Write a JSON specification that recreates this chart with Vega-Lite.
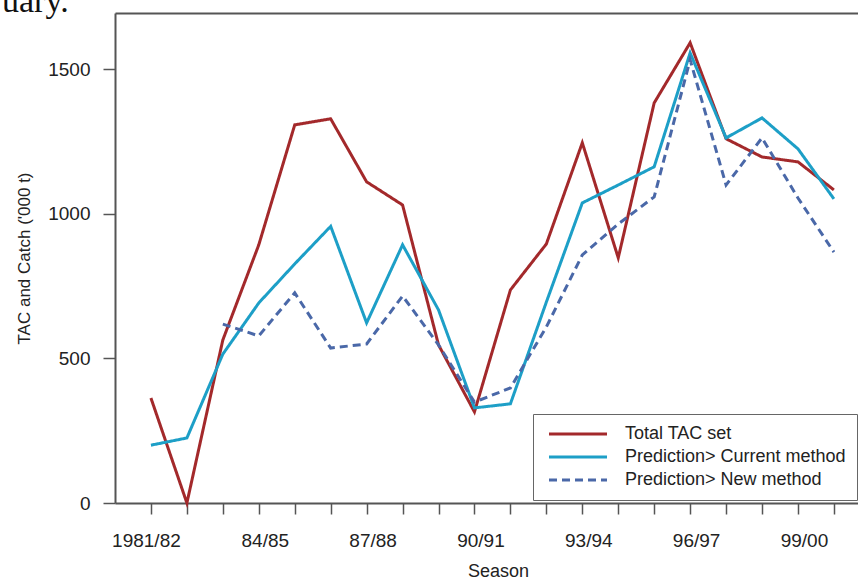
{
  "$schema": "https://vega.github.io/schema/vega-lite/v6.json",
  "width": 743,
  "height": 490,
  "autosize": {"type": "none"},
  "padding": {"left": 115, "top": 13, "right": 0, "bottom": 76},
  "background": "white",
  "title": {"text": "uary.", "anchor": "start", "frame": "group", "dx": -113, "dy": 36, "offset": 3, "baseline": "alphabetic", "font": "Liberation Serif", "fontSize": 34, "fontWeight": "normal", "color": "#111"},
  "config": {
    "view": {"stroke": null},
    "font": "Liberation Sans",
    "axis": {
      "domainColor": "#555", "domainWidth": 2, "tickColor": "#555", "tickWidth": 1.5,
      "labelColor": "#222", "labelFont": "Liberation Sans", "labelFontSize": 19,
      "titleColor": "#222", "titleFont": "Liberation Sans", "titleFontSize": 17, "titleFontWeight": "normal",
      "grid": false
    },
    "legend": {"labelFont": "Liberation Sans"}
  },
  "data": {"values": [
    {"year": 1981, "series": "Total TAC set", "value": 363},
    {"year": 1982, "series": "Total TAC set", "value": 0},
    {"year": 1983, "series": "Total TAC set", "value": 564},
    {"year": 1984, "series": "Total TAC set", "value": 893},
    {"year": 1985, "series": "Total TAC set", "value": 1308},
    {"year": 1986, "series": "Total TAC set", "value": 1329},
    {"year": 1987, "series": "Total TAC set", "value": 1111},
    {"year": 1988, "series": "Total TAC set", "value": 1031},
    {"year": 1989, "series": "Total TAC set", "value": 547},
    {"year": 1990, "series": "Total TAC set", "value": 315},
    {"year": 1991, "series": "Total TAC set", "value": 737},
    {"year": 1992, "series": "Total TAC set", "value": 896},
    {"year": 1993, "series": "Total TAC set", "value": 1246},
    {"year": 1994, "series": "Total TAC set", "value": 848},
    {"year": 1995, "series": "Total TAC set", "value": 1384},
    {"year": 1996, "series": "Total TAC set", "value": 1592},
    {"year": 1997, "series": "Total TAC set", "value": 1260},
    {"year": 1998, "series": "Total TAC set", "value": 1197},
    {"year": 1999, "series": "Total TAC set", "value": 1180},
    {"year": 2000, "series": "Total TAC set", "value": 1083},
    {"year": 1981, "series": "Prediction> Current method", "value": 200},
    {"year": 1982, "series": "Prediction> Current method", "value": 225},
    {"year": 1983, "series": "Prediction> Current method", "value": 515},
    {"year": 1984, "series": "Prediction> Current method", "value": 692},
    {"year": 1985, "series": "Prediction> Current method", "value": 827},
    {"year": 1986, "series": "Prediction> Current method", "value": 957},
    {"year": 1987, "series": "Prediction> Current method", "value": 623},
    {"year": 1988, "series": "Prediction> Current method", "value": 893},
    {"year": 1989, "series": "Prediction> Current method", "value": 668},
    {"year": 1990, "series": "Prediction> Current method", "value": 329},
    {"year": 1991, "series": "Prediction> Current method", "value": 343},
    {"year": 1992, "series": "Prediction> Current method", "value": 695},
    {"year": 1993, "series": "Prediction> Current method", "value": 1038},
    {"year": 1994, "series": "Prediction> Current method", "value": 1100},
    {"year": 1995, "series": "Prediction> Current method", "value": 1163},
    {"year": 1996, "series": "Prediction> Current method", "value": 1557},
    {"year": 1997, "series": "Prediction> Current method", "value": 1263},
    {"year": 1998, "series": "Prediction> Current method", "value": 1332},
    {"year": 1999, "series": "Prediction> Current method", "value": 1225},
    {"year": 2000, "series": "Prediction> Current method", "value": 1052},
    {"year": 1983, "series": "Prediction> New method", "value": 619},
    {"year": 1984, "series": "Prediction> New method", "value": 578},
    {"year": 1985, "series": "Prediction> New method", "value": 727},
    {"year": 1986, "series": "Prediction> New method", "value": 536},
    {"year": 1987, "series": "Prediction> New method", "value": 550},
    {"year": 1988, "series": "Prediction> New method", "value": 716},
    {"year": 1989, "series": "Prediction> New method", "value": 547},
    {"year": 1990, "series": "Prediction> New method", "value": 349},
    {"year": 1991, "series": "Prediction> New method", "value": 398},
    {"year": 1992, "series": "Prediction> New method", "value": 609},
    {"year": 1993, "series": "Prediction> New method", "value": 858},
    {"year": 1994, "series": "Prediction> New method", "value": 965},
    {"year": 1995, "series": "Prediction> New method", "value": 1059},
    {"year": 1996, "series": "Prediction> New method", "value": 1533},
    {"year": 1997, "series": "Prediction> New method", "value": 1100},
    {"year": 1998, "series": "Prediction> New method", "value": 1263},
    {"year": 1999, "series": "Prediction> New method", "value": 1055},
    {"year": 2000, "series": "Prediction> New method", "value": 868}
  ]},
  "layer": [
    {
      "mark": {"type": "line", "strokeWidth": 3, "opacity": 0},
      "encoding": {
        "x": {"field": "year", "type": "quantitative", "scale": {"domain": [1980, 2000.67], "nice": false, "zero": false},
              "axis": {"orient": "top", "labels": false, "ticks": false, "title": null, "domain": true}},
        "y": {"field": "value", "type": "quantitative", "scale": {"domain": [0, 1695], "nice": false},
              "axis": {"title": "TAC and Catch ('000 t)", "format": "d", "values": [0, 500, 1000, 1500], "tickSize": 12, "labelPadding": 13, "titlePadding": 14}},
        "detail": {"field": "series"}
      }
    },
    {
      "mark": {"type": "line", "strokeWidth": 3, "strokeJoin": "miter"},
      "encoding": {
        "x": {"field": "year", "type": "quantitative", "scale": {"domain": [1980, 2000.67], "nice": false, "zero": false},
              "axis": {"orient": "bottom", "title": "Season", "titleX": 383, "titleAlign": "center", "titleFontSize": 18,
                       "values": [1981,1982,1983,1984,1985,1986,1987,1988,1989,1990,1991,1992,1993,1994,1995,1996,1997,1998,1999,2000],
                       "labelExpr": "datum.value == 1981 ? '1981/82' : ((datum.value - 1981) % 3 == 0 ? substring(toString(datum.value), 2) + '/' + substring(toString(datum.value + 1), 2) : '')",
                       "labelOffset": {"condition": {"test": "datum.value == 1981", "value": -5}, "value": 6},
                       "labelOverlap": false, "labelFlush": false, "tickSize": 11, "labelPadding": 17, "titlePadding": 12}},
        "y": {"field": "value", "type": "quantitative", "scale": {"domain": [0, 1695], "nice": false},
              "axis": {"title": "TAC and Catch ('000 t)", "format": "d", "values": [0, 500, 1000, 1500], "tickSize": 12, "labelPadding": 13, "titlePadding": 14}},
        "color": {"field": "series", "type": "nominal", "title": null,
                  "scale": {"domain": ["Total TAC set", "Prediction> Current method", "Prediction> New method"], "range": ["#a3292b", "#1d9fc7", "#4a68a8"]},
                  "legend": {"orient": "none", "legendX": 418, "legendY": 401, "strokeColor": "#666", "fillColor": "white", "padding": 11,
                             "symbolType": "M-5.8,0H5.8", "symbolSize": 100, "symbolStrokeWidth": 3, "symbolOffset": 25,
                             "labelFontSize": 18, "labelColor": "#222", "labelOffset": 38, "rowPadding": 5, "labelLimit": 400}},
        "strokeDash": {"field": "series", "type": "nominal", "title": null,
                       "scale": {"domain": ["Total TAC set", "Prediction> Current method", "Prediction> New method"], "range": [[1, 0], [1, 0], [8, 5]]},
                       "legend": {"orient": "none", "legendX": 418, "legendY": 401, "strokeColor": "#666", "fillColor": "white", "padding": 11,
                             "symbolType": "M-5.8,0H5.8", "symbolSize": 100, "symbolStrokeWidth": 3, "symbolOffset": 25,
                             "labelFontSize": 18, "labelColor": "#222", "labelOffset": 38, "rowPadding": 5, "labelLimit": 400}}
      }
    }
  ],
  "resolve": {"axis": {"x": "independent"}}
}
